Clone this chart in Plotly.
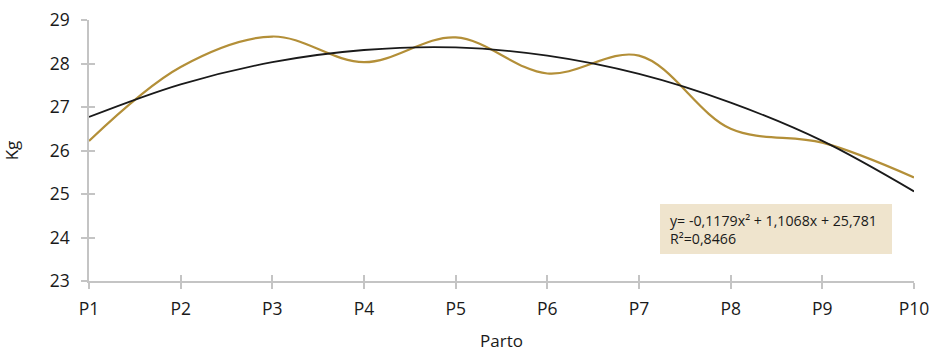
import plotly.graph_objects as go

categories = ["P1", "P2", "P3", "P4", "P5", "P6", "P7", "P8", "P9", "P10"]
weights = [26.22, 27.92, 28.62, 28.03, 28.6, 27.77, 28.18, 26.5, 26.18, 25.38]
trend = [26.77, 27.52, 28.03, 28.31, 28.37, 28.18, 27.76, 27.10, 26.22, 25.06]
y_ticks = [23, 24, 25, 26, 27, 28, 29]
equation = "y= -0,1179x² + 1,1068x + 25,781<br>R²=0,8466"

xpos = list(range(1, len(categories) + 1))
font = "'Open Sans', Lato, sans-serif"
axis_col = "#c4c4c4"

W, H = 934, 352
L, T, R, B = 89, 20, 20, 71
PW, PH = W - L - R, H - T - B

fig = go.Figure()
fig.add_trace(go.Scatter(x=xpos, y=weights, mode="lines",
                         line=dict(color="#b38f38", width=2.2, shape="spline", smoothing=1.0),
                         showlegend=False, hoverinfo="skip"))
fig.add_trace(go.Scatter(x=xpos, y=trend, mode="lines",
                         line=dict(color="#1a1a1a", width=1.8, shape="spline", smoothing=1.0),
                         showlegend=False, hoverinfo="skip"))

fig.update_layout(
    width=W, height=H,
    margin=dict(l=L, r=R, t=T, b=B),
    plot_bgcolor="white", paper_bgcolor="white",
    font=dict(family=font, size=17, color="#1a1a1a"),
    xaxis=dict(range=[1, 10], tickvals=xpos, ticktext=categories, automargin=False,
               showgrid=False, zeroline=False, showline=True, linecolor=axis_col, linewidth=1.5,
               ticks="outside", ticklen=6, tickcolor=axis_col, tickwidth=1.5,
               tickfont=dict(size=17.5), ticklabelstandoff=5, ticklabeloverflow="allow",
               title=dict(text="Parto", font=dict(size=17), standoff=17)),
    yaxis=dict(range=[23, 29], tickvals=y_ticks, automargin=False,
               showgrid=False, zeroline=False, showline=True, linecolor=axis_col, linewidth=1.5,
               ticks="outside", ticklen=6, tickcolor=axis_col, tickwidth=1.5,
               tickfont=dict(size=17.5), ticklabelstandoff=8, ticklabeloverflow="allow",
               title=dict(text="Kg", font=dict(size=17), standoff=28)),
    xaxis2=dict(range=[1, 10], tickvals=xpos, overlaying="x", anchor="y", side="bottom",
                showticklabels=False, showgrid=False, zeroline=False, automargin=False,
                ticks="inside", ticklen=6, tickcolor=axis_col, tickwidth=1.5),
    yaxis2=dict(range=[23, 29], tickvals=y_ticks, overlaying="y", anchor="x", side="left",
                showticklabels=False, showgrid=False, zeroline=False, automargin=False,
                ticks="inside", ticklen=6, tickcolor=axis_col, tickwidth=1.5),
)
fig.add_trace(go.Scatter(x=[None], y=[None], xaxis="x2", yaxis="y2", showlegend=False))

# equation box (page px 660-892 x 204-254)
bx0, bx1, by0, by1 = 660, 892, 204, 254
def px(x):
    return (x - L) / PW
def py(y):
    return (T + PH - y) / PH
fig.add_shape(type="rect", xref="paper", yref="paper", x0=px(bx0), x1=px(bx1), y0=py(by1), y1=py(by0),
              fillcolor="#efe4cd", line=dict(width=0), layer="below")
fig.add_annotation(xref="paper", yref="paper", x=px(bx0 + 9), y=(py(by0) + py(by1)) / 2,
                   xanchor="left", yanchor="middle", text=equation, showarrow=False, align="left",
                   borderpad=0, font=dict(size=14.2, color="#1a1a1a", family=font))

fig.write_html("out.html", config={"displayModeBar": False},
               post_script="document.body.style.margin='0';document.body.style.overflow='hidden';")
